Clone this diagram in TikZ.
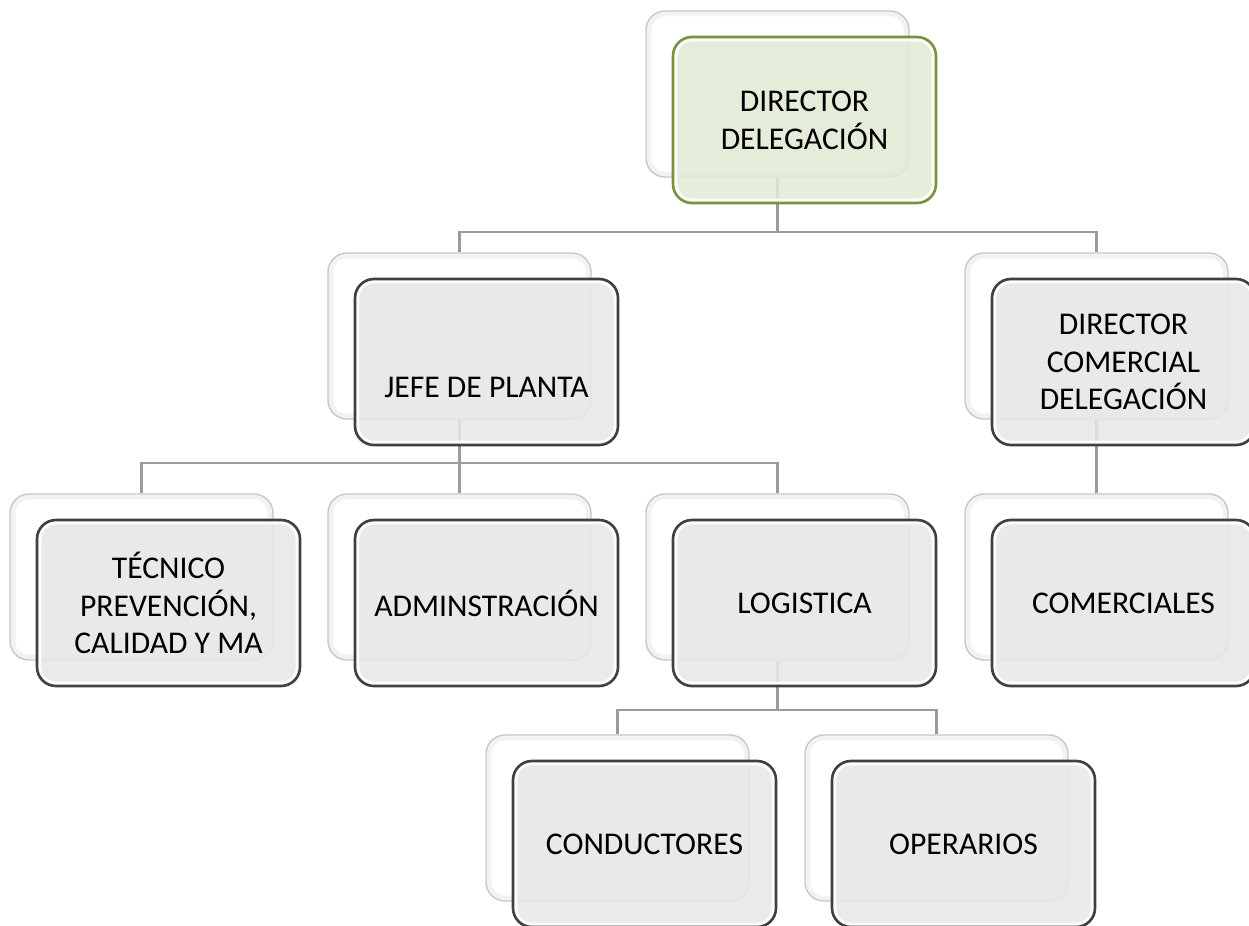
\documentclass[tikz,border=0pt]{standalone}
\usepackage{fontspec}
\setmainfont{Carlito}
\usetikzlibrary{calc,backgrounds}
\definecolor{boxgray}{RGB}{231,231,231}
\definecolor{boxline}{RGB}{64,64,64}
\definecolor{topfill}{RGB}{227,234,214}
\definecolor{topline}{RGB}{119,147,60}
\definecolor{backline}{RGB}{200,200,200}
\definecolor{linegray}{RGB}{155,155,155}
\begin{document}
\begin{tikzpicture}[
	backbox/.style={draw=backline, line width=0.8pt, fill=white, rounded corners=0.38cm,
		minimum width=5.26cm, minimum height=3.32cm,
		path picture={\draw[gray!10, line width=6pt, rounded corners=0.38cm] (path picture bounding box.south west) rectangle (path picture bounding box.north east);}},
	frontbox/.style={draw=boxline, line width=1.5pt, fill=boxgray, fill opacity=0.88, text opacity=1,
		rounded corners=0.38cm, minimum width=5.26cm, minimum height=3.32cm, align=center,
		font=\fontsize{18}{21.5}\selectfont,
		path picture={\draw[white, line width=5pt, opacity=0.9, rounded corners=0.38cm] (path picture bounding box.south west) rectangle (path picture bounding box.north east);}},
	topbox/.style={frontbox, draw=topline, fill=topfill},
	conn/.style={draw=linegray, line width=1.6pt}]
	\useasboundingbox (0,0) rectangle (24.98,-18.5);
	% positions of the front boxes
	\coordinate (pdir) at (16.09,-2.40);
	\coordinate (pjefe) at (9.73,-7.24);
	\coordinate (pdcom) at (22.47,-7.24);
	\coordinate (ptec) at (3.37,-12.06);
	\coordinate (padm) at (9.73,-12.06);
	\coordinate (plog) at (16.09,-12.06);
	\coordinate (pcom) at (22.47,-12.06);
	\coordinate (pcon) at (12.89,-16.88);
	\coordinate (pope) at (19.27,-16.88);
	% back boxes
	\node[backbox] (bdir) at ($(pdir)+(-0.54,0.52)$) {};
	\node[backbox] (bjefe) at ($(pjefe)+(-0.54,0.52)$) {};
	\node[backbox] (bdcom) at ($(pdcom)+(-0.54,0.52)$) {};
	\node[backbox] (btec) at ($(ptec)+(-0.54,0.52)$) {};
	\node[backbox] (badm) at ($(padm)+(-0.54,0.52)$) {};
	\node[backbox] (blog) at ($(plog)+(-0.54,0.52)$) {};
	\node[backbox] (bcom) at ($(pcom)+(-0.54,0.52)$) {};
	\node[backbox] (bcon) at ($(pcon)+(-0.54,0.52)$) {};
	\node[backbox] (bope) at ($(pope)+(-0.54,0.52)$) {};
	% front boxes
	\node[topbox] (dir) at (pdir) {DIRECTOR\\DELEGACIÓN};
	\node[frontbox] (jefe) at (pjefe) {\raisebox{-0.5cm}[\height][\depth]{JEFE DE PLANTA}};
	\node[frontbox] (dcom) at (pdcom) {DIRECTOR\\COMERCIAL\\DELEGACIÓN};
	\node[frontbox] (tec) at (ptec) {TÉCNICO\\PREVENCIÓN,\\CALIDAD Y MA};
	\node[frontbox] (adm) at (padm) {ADMINSTRACIÓN};
	\node[frontbox] (log) at (plog) {LOGISTICA};
	\node[frontbox] (com) at (pcom) {COMERCIALES};
	\node[frontbox] (con) at (pcon) {CONDUCTORES};
	\node[frontbox] (ope) at (pope) {OPERARIOS};
	% connectors
	\coordinate (bus1) at (0,-4.64);
	\coordinate (bus2) at (0,-9.26);
	\coordinate (bus3) at (0,-14.2);
	\begin{scope}[on background layer]
		\draw[conn] (bdir.south) -- (bdir.south |- bus1) -| (bjefe.north);
		\draw[conn] (bdir.south |- bus1) -| (bdcom.north);
		\draw[conn] (bjefe.south) -- (bjefe.south |- bus2) -| (btec.north);
		\draw[conn] (bjefe.south |- bus2) -| (badm.north);
		\draw[conn] (bjefe.south |- bus2) -| (blog.north);
		\draw[conn] (bdcom.south) -- (bcom.north);
		\draw[conn] (blog.south) -- (blog.south |- bus3) -| (bcon.north);
		\draw[conn] (blog.south |- bus3) -| (bope.north);
	\end{scope}
\end{tikzpicture}
\end{document}
